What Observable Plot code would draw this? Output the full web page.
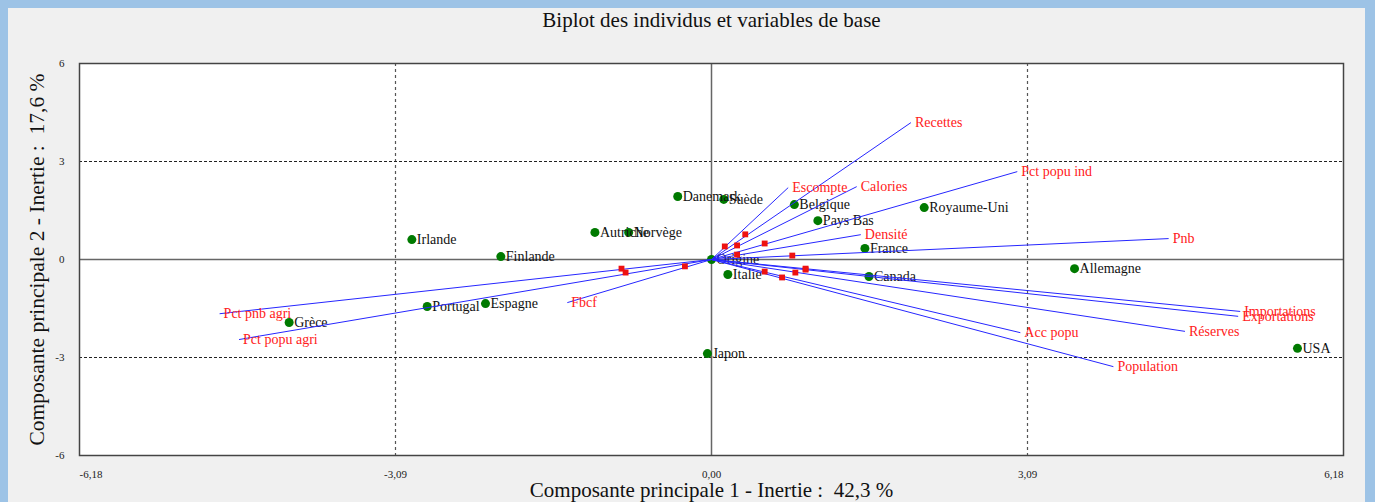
<!DOCTYPE html>
<html>
<head>
<meta charset="utf-8">
<script src="https://cdn.jsdelivr.net/npm/d3@7"></script>
<script src="https://cdn.jsdelivr.net/npm/@observablehq/plot@0.6"></script>
<style>
  html, body { margin: 0; padding: 0; background: #9dc3e6; width: 1375px; height: 502px; overflow: hidden; }
  #panel { position: absolute; left: 8px; top: 8px; width: 1357px; height: 494px; background: #f0f0f0; }
  #chart { position: absolute; left: 0; top: 0; }
</style>
</head>
<body>
<div id="panel"></div>
<div id="chart"></div>
<script>
// ---- Data ----
const countryNames = ["Danemark","Suède","Belgique","Pays Bas","Royaume-Uni","France","Autriche","Norvège","Irlande","Finlande","Origine","Italie","Canada","Allemagne","USA","Japon","Grèce","Portugal","Espagne"];
const countryX = [-0.33, 0.12, 0.81, 1.04, 2.08, 1.50, -1.14, -0.81, -2.93, -2.06, 0.00, 0.16, 1.54, 3.55, 5.73, -0.04, -4.13, -2.78, -2.21];
const countryY = [1.93, 1.84, 1.68, 1.19, 1.59, 0.34, 0.83, 0.83, 0.61, 0.09, 0.00, -0.46, -0.52, -0.28, -2.72, -2.88, -1.93, -1.44, -1.35];

const variableNames = ["Recettes","Escompte","Calories","Pct popu ind","Densité","Pnb","Fbcf","Pct pnb agri","Pct popu agri","Acc popu","Population","Réserves","Importations","Exportations"];
// end of each variable's arrow (label position)
const arrowX = [1.95, 0.75, 1.42, 2.99, 1.46, 4.47, -1.41, -4.81, -4.62, 3.02, 3.93, 4.63, 5.17, 5.15];
const arrowY = [4.19, 2.20, 2.23, 2.69, 0.76, 0.64, -1.32, -1.66, -2.45, -2.24, -3.28, -2.20, -1.59, -1.74];
// red square markers (variable coordinates)
const loadX = [0.33, 0.13, 0.25, 0.52, 0.25, 0.79, -0.26, -0.88, -0.84, 0.52, 0.69, 0.82, 0.92, 0.92];
const loadY = [0.77, 0.40, 0.43, 0.49, 0.15, 0.12, -0.21, -0.28, -0.40, -0.37, -0.55, -0.40, -0.28, -0.31];

const xTicks = [-6.18, -3.09, 0, 3.09, 6.18];
const xTickLabels = ["-6,18", "-3,09", "0,00", "3,09", "6,18"];
const yTicks = [6, 3, 0, -3, -6];
const yTickLabels = ["6", "3", "0", "-3", "-6"];
const xGrid = [-3.09, 3.09];
const yGrid = [-3, 3];

const title = "Biplot des individus et variables de base";
const xTitle = "Composante principale 1 - Inertie :  42,3 %";
const yTitle = "Composante principale 2 - Inertie :  17,6 %";

// ---- Build tables ----
const countries = countryNames.map((name, i) => ({name, x: countryX[i], y: countryY[i]}));
const variables = variableNames.map((name, i) => ({name, x: arrowX[i], y: arrowY[i], lx: loadX[i], ly: loadY[i]}));
const xt = xTicks.map((v, i) => ({v, label: xTickLabels[i]}));
const yt = yTicks.map((v, i) => ({v, label: yTickLabels[i]}));

const chart = Plot.plot({
  width: 1375,
  height: 502,
  marginLeft: 79,
  marginRight: 32,
  marginTop: 63,
  marginBottom: 47,
  style: {fontFamily: "'Liberation Serif', 'Times New Roman', serif", fontSize: "14px", background: "transparent", overflow: "visible"},
  x: {domain: [-6.18, 6.18], axis: null},
  y: {domain: [-6, 6], axis: null},
  marks: [
    Plot.frame({fill: "white", stroke: null}),
    Plot.ruleX(xGrid, {stroke: "#555", strokeDasharray: "3,3", strokeWidth: 1.2}),
    Plot.ruleY(yGrid, {stroke: "#222", strokeDasharray: "3,2", strokeWidth: 1}),
    Plot.ruleX([0], {stroke: "#666", strokeWidth: 1.5}),
    Plot.ruleY([0], {stroke: "#666", strokeWidth: 1.5}),
    // individuals
    Plot.dot(countries, {x: "x", y: "y", r: 4.5, fill: "#007a00", stroke: null}),
    Plot.text(countries, {x: "x", y: "y", text: "name", textAnchor: "start", dx: 5, fill: "#111", fontSize: 14}),
    // variables
    Plot.link(variables, {x1: () => 0, y1: () => 0, x2: "x", y2: "y", stroke: "#2626ff", strokeWidth: 1}),
    Plot.dot(variables, {x: "lx", y: "ly", symbol: "square", r: 3.3, fill: "#ee1111", stroke: null}),
    Plot.text(variables, {x: "x", y: "y", text: "name", textAnchor: "start", dx: 4, fill: "#ff2020", fontSize: 14}),
    // x tick labels
    Plot.text(xt.slice(0, 1), {x: "v", text: "label", frameAnchor: "bottom", lineAnchor: "middle", dy: 19, textAnchor: "start", fontSize: 11, fill: "#222"}),
    Plot.text(xt.slice(1, 4), {x: "v", text: "label", frameAnchor: "bottom", lineAnchor: "middle", dy: 19, textAnchor: "middle", fontSize: 11, fill: "#222"}),
    Plot.text(xt.slice(4), {x: "v", text: "label", frameAnchor: "bottom", lineAnchor: "middle", dy: 19, textAnchor: "end", fontSize: 11, fill: "#222"}),
    // y tick labels
    Plot.text(yt, {y: "v", text: "label", frameAnchor: "left", lineAnchor: "middle", dx: -15, textAnchor: "end", fontSize: 11, fill: "#222"}),
    // titles
    Plot.text([title], {text: d => d, frameAnchor: "top", lineAnchor: "middle", dy: -43, fontSize: 21, fill: "#111"}),
    Plot.text([xTitle], {text: d => d, frameAnchor: "bottom", lineAnchor: "middle", dy: 35, fontSize: 21, fill: "#111"}),
    Plot.text([yTitle], {text: d => d, frameAnchor: "left", lineAnchor: "middle", textAnchor: "middle", dx: -42, rotate: -90, fontSize: 21.5, fill: "#111"}),
    Plot.frame({stroke: "#444", strokeWidth: 1.5})
  ]
});
document.getElementById("chart").appendChild(chart);
</script>
</body>
</html>
